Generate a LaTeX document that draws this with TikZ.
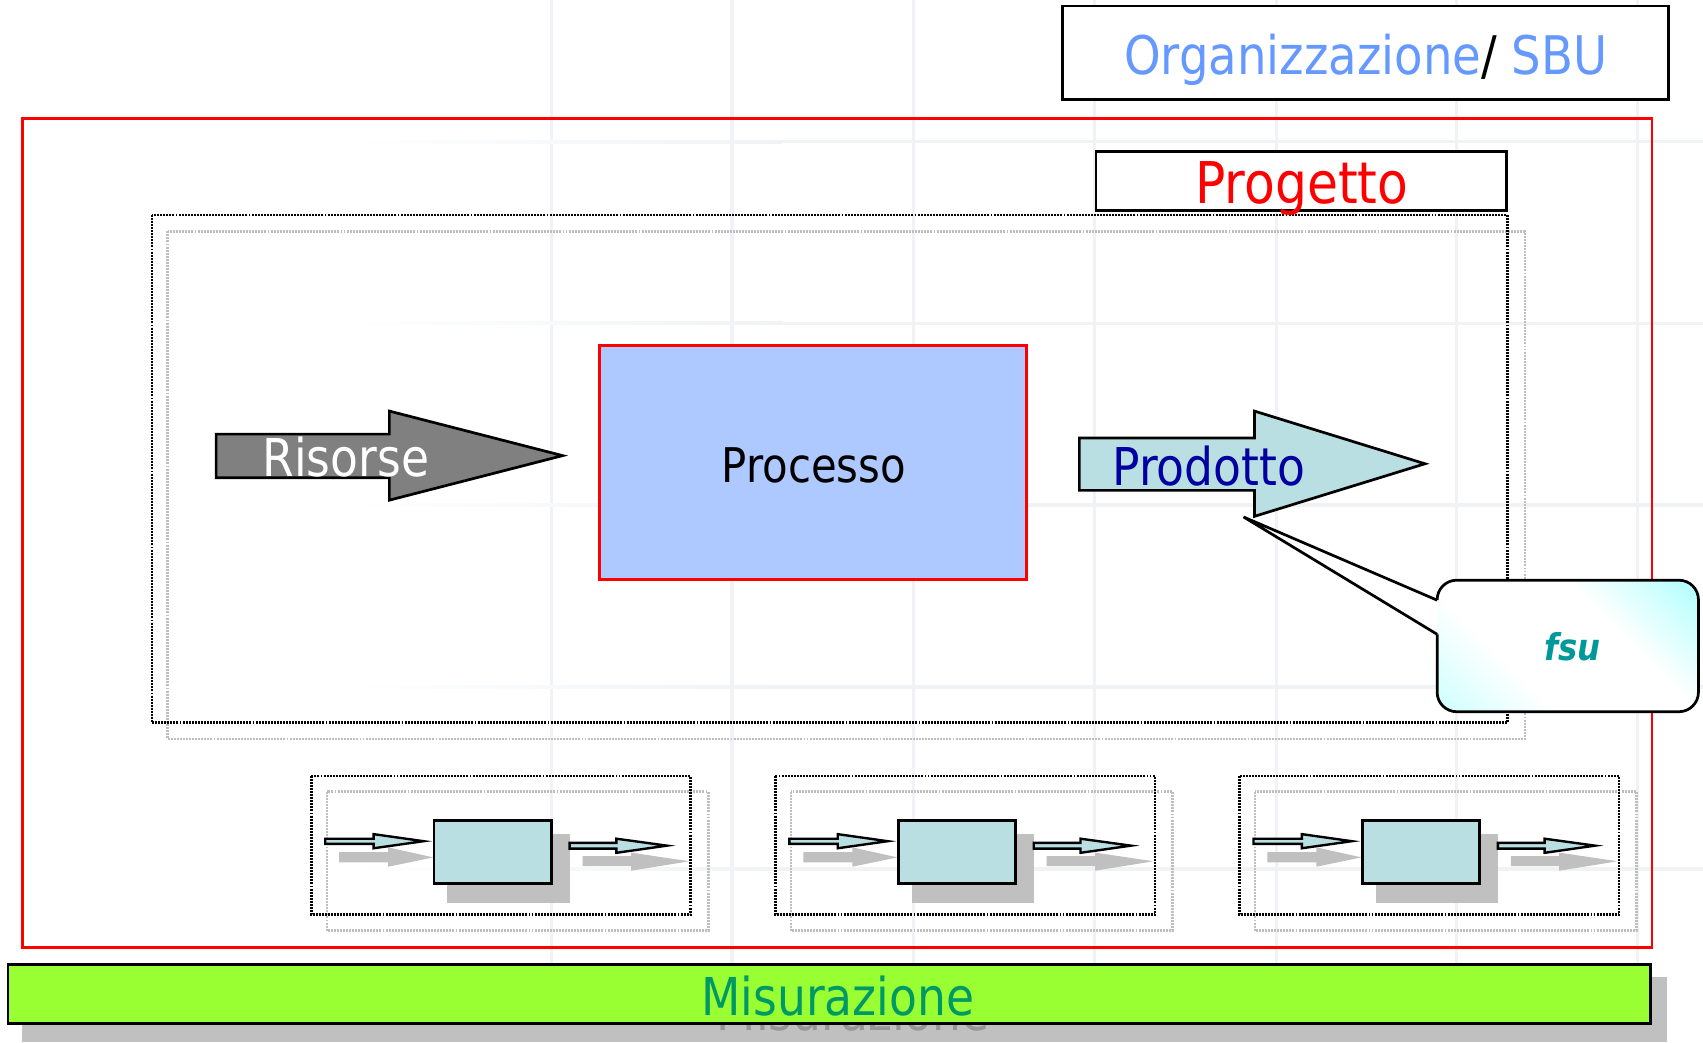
\documentclass[tikz,border=0pt]{standalone}
\usepackage{fontspec}
\setmainfont{DejaVu Sans}[FakeStretch=0.875]
\definecolor{orgblue}{RGB}{102,153,255}
\definecolor{procfill}{RGB}{174,201,255}
\definecolor{teallight}{RGB}{186,223,226}
\definecolor{prodblue}{RGB}{0,0,160}
\definecolor{fsucol}{RGB}{0,153,153}
\definecolor{misfill}{RGB}{153,255,51}
\definecolor{mistext}{RGB}{0,153,102}
\definecolor{shadowgray}{RGB}{192,192,192}
\definecolor{shadowtext}{RGB}{150,150,150}
\definecolor{gridc}{RGB}{240,242,245}
\definecolor{dotgray}{RGB}{190,190,190}
\definecolor{arrgray}{RGB}{128,128,128}
\definecolor{cyanlow}{RGB}{200,255,255}
\definecolor{cyanhigh}{RGB}{165,255,255}
\pgfdeclareverticalshading{calloutshade}{100bp}{color(0bp)=(cyanlow); color(12bp)=(cyanlow);
  color(36bp)=(white); color(62bp)=(white); color(88bp)=(cyanhigh); color(100bp)=(cyanhigh)}
\begin{document}
\begin{tikzpicture}[x=1pt,y=-1pt,line join=miter,
  blackline/.style={draw=black,line width=2.5pt},
  thinblack/.style={draw=black,line width=2.2pt},
  dotblack/.style={draw=black,line width=2.5pt,dash pattern=on 1.8pt off 1pt},
  dotlight/.style={draw=dotgray,line width=2.5pt,dash pattern=on 1.8pt off 1pt},
  txt/.style={inner sep=0pt,anchor=base}]
\useasboundingbox (0,0) rectangle (1568,959.4);
\fill[white] (0,0) rectangle (1568,959.4);
% faint background grid
\foreach \gx in {508,674,841,1008,1175,1341,1508}
  \fill[gridc] (\gx-1.5,0) rectangle (\gx+1.5,959.4);
\foreach \gy in {130.5,297.6,465,632.5,800}{
  \shade[left color=white,right color=gridc] (320,\gy-1.5) rectangle (720,\gy+1.5);
  \fill[gridc] (720,\gy-1.5) rectangle (1568,\gy+1.5);
}
% organisation box
\draw[blackline,fill=white] (978,5.5) rectangle (1536.5,91.5);
\node[txt,font=\fontsize{49}{55}\selectfont] (org) at (1257.5,69)
  {\textcolor{orgblue}{Organizzazione}/ \textcolor{orgblue}{SBU}};
% project frame
\draw[red,line width=2.5pt] (21,109) rectangle (1521,872.5);
\draw[dotlight] (154.5,213) rectangle (1404,680.5);
\draw[dotblack] (140,198) rectangle (1388,665.5);
\draw[blackline,fill=white] (1009.2,139.2) rectangle (1387.3,193.8);
\node[txt,font=\fontsize{53}{60}\selectfont,text=red] (prog) at (1198.5,187) {Progetto};
% Risorse arrow
\draw[blackline,fill=arrgray] (199,399.7) -- (358.5,399.7) -- (358.5,378.5) -- (518,419.5)
  -- (358.5,460.5) -- (358.5,439.8) -- (199,439.8) -- cycle;
\node[txt,font=\fontsize{48}{54}\selectfont,text=white] (ris) at (318.5,439) {Risorse};
% Processo box
\draw[red,line width=2.5pt,fill=procfill] (552,318) rectangle (945.3,533.7);
\node[txt,font=\fontsize{44}{50}\selectfont] (proc) at (749.3,444.6) {Processo};
% Prodotto arrow
\draw[blackline,fill=teallight] (993.8,403.2) -- (1155,403.2) -- (1155,378.5) -- (1312,427)
  -- (1155,475.4) -- (1155,451.5) -- (993.8,451.5) -- cycle;
\node[txt,font=\fontsize{48}{54}\selectfont,text=prodblue] (prod) at (1113,446.6) {Prodotto};
% callout
\coordinate (ptip) at (1145,476);
\coordinate (pa) at (1323.2,552.6);
\coordinate (pb) at (1323.2,584);
\fill[white] (ptip) -- (pa) -- (pb) -- cycle;
\shade[shading=calloutshade,shading angle=-45,rounded corners=18pt]
  (1323.2,534.2) rectangle (1563.8,655.3);
\draw[blackline,rounded corners=18pt] (pb) -- (1323.2,655.3) -- (1563.8,655.3)
  -- (1563.8,534.2) -- (1323.2,534.2) -- (pa);
\draw[blackline] (pa) -- (ptip) -- (pb);
\node[txt,font=\fontsize{34}{40}\selectfont\bfseries\itshape,text=fsucol] (fsu) at (1447.5,608) {fsu};
% sub-process groups
\foreach \dx in {0,427.3,854.6}{
\begin{scope}[xshift=\dx]
  \draw[dotlight] (301,729) rectangle (652,857);
  \draw[dotblack] (286.5,714.5) rectangle (636,842);
  \fill[shadowgray] (412,768) rectangle (524.5,831);
  \fill[shadowgray] (312.3,784.5) -- (357.4,784.5) -- (357.4,780.2) -- (399,789.4)
    -- (357.4,798) -- (357.4,794) -- (312.3,794) -- cycle;
  \fill[shadowgray] (536.4,788.2) -- (581,788.2) -- (581,785) -- (634.6,793)
    -- (581,801.7) -- (581,797.4) -- (536.4,797.4) -- cycle;
  \draw[blackline,fill=teallight] (399.7,755.6) rectangle (507.6,813.6);
  \draw[thinblack,fill=teallight] (299.5,772.2) -- (344,772.2) -- (344,768) -- (390,774.5)
    -- (344,781) -- (344,777) -- (299.5,777) -- cycle;
  \draw[thinblack,fill=teallight] (524.5,776) -- (567.5,776) -- (567.5,772.2) -- (614,778.6)
    -- (567.5,785.2) -- (567.5,781.3) -- (524.5,781.3) -- cycle;
\end{scope}
}
% Misurazione bar
\fill[shadowgray] (20,899.6) rectangle (1535,959.4);
\node[txt,font=\fontsize{48}{54}\selectfont,text=shadowtext] (misshadow) at (785.5,948.6) {Misurazione};
\draw[blackline,fill=misfill] (7.4,887.9) rectangle (1519.8,942.5);
\node[txt,font=\fontsize{48}{54}\selectfont,text=mistext] (mis) at (771.5,934.6) {Misurazione};
\end{tikzpicture}
\end{document}
